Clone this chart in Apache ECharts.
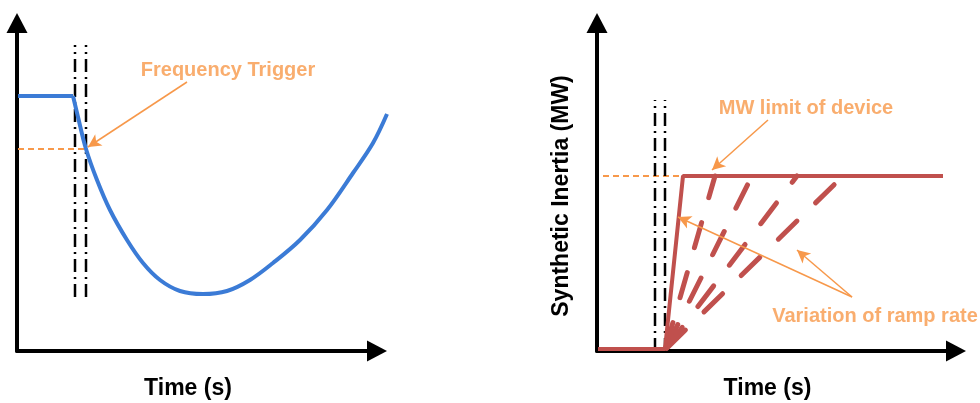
<!DOCTYPE html>
<html>
<head>
<meta charset="utf-8">
<script src="https://cdn.jsdelivr.net/npm/echarts@6/dist/echarts.min.js"></script>
<style>
  html, body { margin: 0; padding: 0; background: #fff; }
  #chart { width: 980px; height: 403px; }
</style>
</head>
<body>
<div id="chart"></div>
<script>
// ---------- data (axis units: time / value, origin at the axes corner) ----------
// Left panel: frequency response
const freqFlat = [[1, 255], [56, 255]];
const freqCurve = [[56, 255], [61, 234], [69, 202], [80, 171], [93, 141], [110, 111], [126, 88],
  [143, 71], [163, 60], [186, 57], [210, 60], [233, 71], [256, 88], [283, 111], [310, 141],
  [336, 178], [356, 208], [370, 237]];
const triggerLine = [[1, 202], [69, 202]];
const leftMarkerX = [58, 69];
const leftMarkerY = [54, 306];
const leftTextPos = [211, 281];
const leftArrow = [[170, 269], [71, 204]];

// Right panel: synthetic inertia
const inertiaLine = [[1, 2], [68, 2], [86, 175], [346, 175]];
const fanOrigin = [68, 1];
const mwLimit = 175;
const rampEndX = [118, 155, 200, 246];
const limitDash = [[6, 175], [86, 175]];
const rightMarkerX = [58, 68];
const rightMarkerY = [0, 251];
const limitTextPos = [209, 243];
const limitArrow = [[171, 231], [115, 181]];
const rampTextPos = [278, 35];
const rampArrows = [[[255, 54], [200, 101]], [[255, 54], [81, 134]]];

const labels = {
  xName: 'Time (s)',
  yNameRight: 'Synthetic Inertia (MW)',
  trigger: 'Frequency Trigger',
  limit: 'MW limit of device',
  ramp: 'Variation of ramp rate'
};

// ---------- styles ----------
const FONT = 'Liberation Sans, Arial, sans-serif';
const ORANGE = '#F7984A';
const BLUE = '#3B7BD6';
const RED = '#C0504D';

const axisLine = {
  show: true,
  symbol: ['none', 'triangle'],
  symbolSize: [21, 20],
  lineStyle: { color: '#000', width: 4 }
};
const nameStyle = { fontFamily: FONT, fontWeight: 'bold', fontSize: 23, color: '#000' };

function xAxisCfg(idx, max) {
  return {
    gridIndex: idx, type: 'value', min: 0, max: max,
    axisLine: axisLine, axisTick: { show: false }, axisLabel: { show: false }, splitLine: { show: false },
    name: labels.xName, nameLocation: 'middle', nameGap: 26,
    nameTextStyle: Object.assign({ padding: [0, 18, 0, 0] }, nameStyle)
  };
}
function yAxisCfg(idx, max, name) {
  const a = {
    gridIndex: idx, type: 'value', min: 0, max: max,
    axisLine: axisLine, axisTick: { show: false }, axisLabel: { show: false }, splitLine: { show: false }
  };
  if (name) {
    a.name = name; a.nameLocation = 'middle'; a.nameGap = 24; a.nameRotate = 90;
    a.nameTextStyle = Object.assign({ padding: [0, 18, 0, 0] }, nameStyle);
  }
  return a;
}
function hiddenAxis(idx, max) {
  return { gridIndex: idx, type: 'value', min: 0, max: max, show: false };
}

function lineSeries(idx, data, color, width, dash, extra) {
  return Object.assign({
    type: 'line', xAxisIndex: idx, yAxisIndex: idx, data: data,
    showSymbol: false, symbol: 'none', clip: false, silent: true,
    lineStyle: { color: color, width: width, type: dash || 'solid' }
  }, extra || {});
}
function textSeries(idx, pos, text) {
  return {
    type: 'scatter', xAxisIndex: idx, yAxisIndex: idx, data: [pos], symbolSize: 1, silent: true,
    itemStyle: { color: 'rgba(0,0,0,0)' },
    label: { show: true, position: 'inside', formatter: text,
      fontFamily: FONT, fontWeight: 'bold', fontSize: 20, color: ORANGE }
  };
}
function arrowMark(pairs) {
  return {
    silent: true, symbol: ['none', 'arrow'], symbolSize: [10, 13],
    label: { show: false },
    lineStyle: { color: ORANGE, width: 1.5, type: 'solid' },
    data: pairs.map(p => [{ coord: p[0] }, { coord: p[1] }])
  };
}
const dashDot = [13, 5, 2, 5];

// grid 0: visible axes of left panel; grid 2: same scale, wider, holds the left marks
const L = 2;
const series = [];
series.push(lineSeries(L, triggerLine, ORANGE, 2, [6, 4], { markLine: arrowMark([leftArrow]) }));
leftMarkerX.forEach(x => series.push(lineSeries(L, [[x, leftMarkerY[0]], [x, leftMarkerY[1]]], '#000', 2.5, dashDot)));
series.push(lineSeries(L, freqFlat, BLUE, 4));
series.push(lineSeries(L, freqCurve, BLUE, 4, 'solid', { smooth: 0.35 }));
series.push(textSeries(L, leftTextPos, labels.trigger));

// right
series.push(lineSeries(1, limitDash, ORANGE, 2, [6, 4], { markLine: arrowMark([limitArrow].concat(rampArrows)) }));
rightMarkerX.forEach(x => series.push(lineSeries(1, [[x, rightMarkerY[0]], [x, rightMarkerY[1]]], '#000', 2.5, dashDot)));
rampEndX.forEach(x => series.push(lineSeries(1, [fanOrigin, [x, mwLimit]], RED, 5, [26, 26], {
  lineStyle: { color: RED, width: 5, type: [26, 26], dashOffset: -2.5, cap: 'round' } })));
series.push(lineSeries(1, inertiaLine, RED, 4));
series.push(textSeries(1, limitTextPos, labels.limit));
series.push(textSeries(1, rampTextPos, labels.ramp));

const chart = echarts.init(document.getElementById('chart'), null, { renderer: 'canvas' });
chart.setOption({
  animation: false,
  backgroundColor: '#fff',
  grid: [
    { left: 17, top: 23, width: 360, height: 328, outerBoundsMode: 'none', containLabel: false },
    { left: 597, top: 23, width: 359, height: 328, outerBoundsMode: 'none', containLabel: false },
    { left: 17, top: 23, width: 372, height: 328, outerBoundsMode: 'none', containLabel: false }
  ],
  xAxis: [xAxisCfg(0, 360), xAxisCfg(1, 359), hiddenAxis(2, 372)],
  yAxis: [yAxisCfg(0, 328), yAxisCfg(1, 328, labels.yNameRight), hiddenAxis(2, 328)],
  series: series
});
</script>
</body>
</html>
